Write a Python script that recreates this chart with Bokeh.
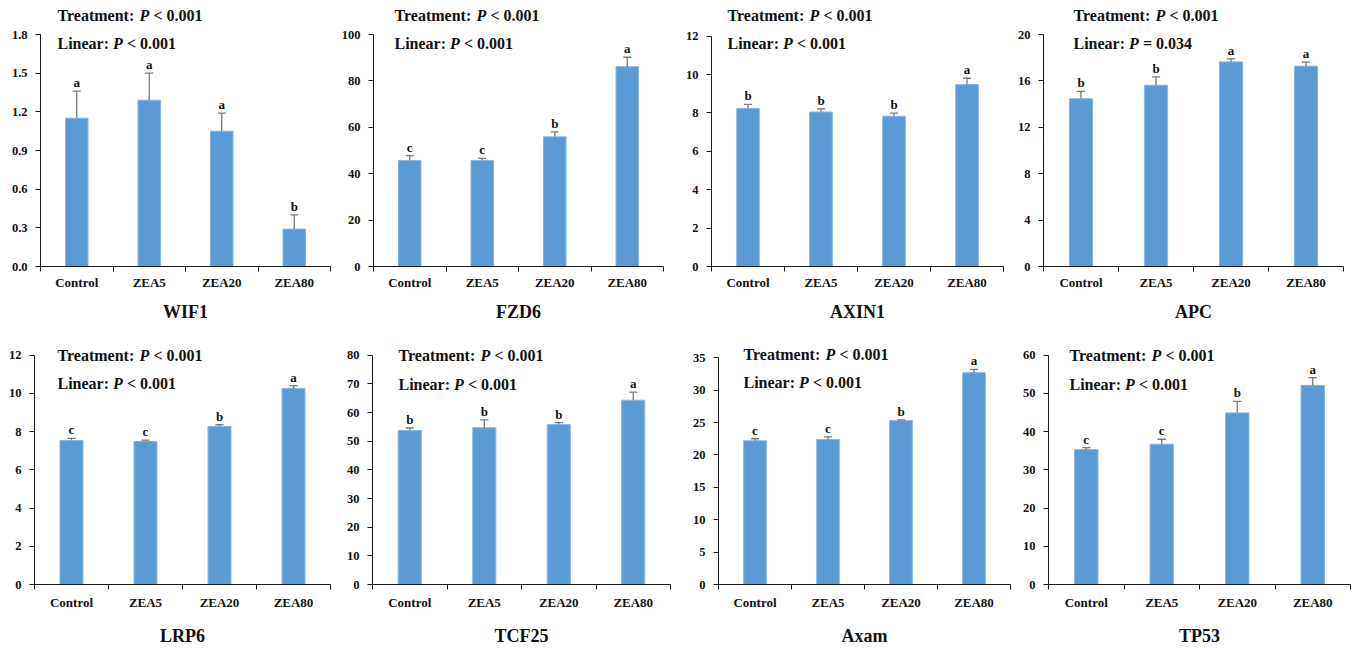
from bokeh.plotting import figure
from bokeh.layouts import column, row
from bokeh.models import FixedTicker, NumeralTickFormatter, Label, LabelSet, ColumnDataSource, Range1d
from bokeh.embed import file_html
from bokeh.resources import INLINE

# ---------------- data ----------------
groups = ["Control", "ZEA5", "ZEA20", "ZEA80"]
genes = ["WIF1", "FZD6", "AXIN1", "APC", "LRP6", "TCF25", "Axam", "TP53"]

wif1_mean = [1.15, 1.29, 1.05, 0.29]
wif1_se = [0.21, 0.21, 0.14, 0.11]
wif1_letters = ["a", "a", "a", "b"]
wif1_yticks = [0.0, 0.3, 0.6, 0.9, 1.2, 1.5, 1.8]

fzd6_mean = [45.7, 45.7, 55.9, 86.1]
fzd6_se = [2.1, 0.9, 2.1, 4.1]
fzd6_letters = ["c", "c", "b", "a"]
fzd6_yticks = [0, 20, 40, 60, 80, 100]

axin1_mean = [8.24, 8.05, 7.83, 9.48]
axin1_se = [0.21, 0.17, 0.16, 0.33]
axin1_letters = ["b", "b", "b", "a"]
axin1_yticks = [0, 2, 4, 6, 8, 10, 12]

apc_mean = [14.46, 15.63, 17.64, 17.27]
apc_se = [0.63, 0.72, 0.26, 0.34]
apc_letters = ["b", "b", "a", "a"]
apc_yticks = [0, 4, 8, 12, 16, 20]

lrp6_mean = [7.53, 7.48, 8.27, 10.26]
lrp6_se = [0.12, 0.07, 0.09, 0.15]
lrp6_letters = ["c", "c", "b", "a"]
lrp6_yticks = [0, 2, 4, 6, 8, 10, 12]

tcf25_mean = [53.7, 54.7, 55.8, 64.3]
tcf25_se = [0.9, 2.7, 0.7, 2.8]
tcf25_letters = ["b", "b", "b", "a"]
tcf25_yticks = [0, 10, 20, 30, 40, 50, 60, 70, 80]

axam_mean = [22.2, 22.4, 25.3, 32.7]
axam_se = [0.3, 0.4, 0.1, 0.5]
axam_letters = ["c", "c", "b", "a"]
axam_yticks = [0, 5, 10, 15, 20, 25, 30, 35]

tp53_mean = [35.3, 36.7, 44.9, 52.1]
tp53_se = [0.5, 1.3, 3.0, 2.0]
tp53_letters = ["c", "c", "b", "a"]
tp53_yticks = [0, 10, 20, 30, 40, 50, 60]

treatment_p = ["< 0.001"] * 8
linear_p = ["< 0.001", "< 0.001", "< 0.001", "= 0.034", "< 0.001", "< 0.001", "< 0.001", "< 0.001"]

means = [wif1_mean, fzd6_mean, axin1_mean, apc_mean, lrp6_mean, tcf25_mean, axam_mean, tp53_mean]
ses = [wif1_se, fzd6_se, axin1_se, apc_se, lrp6_se, tcf25_se, axam_se, tp53_se]
letters = [wif1_letters, fzd6_letters, axin1_letters, apc_letters, lrp6_letters, tcf25_letters, axam_letters, tp53_letters]
yticks = [wif1_yticks, fzd6_yticks, axin1_yticks, apc_yticks, lrp6_yticks, tcf25_yticks, axam_yticks, tp53_yticks]
yformats = ["0.0", "0", "0", "0", "0", "0", "0", "0"]

# ---------------- layout / style ----------------
W, H = 338, 324
FRAME_TOP = 2
# (left, right, axis_top_px, bottom, text_dx, treatment_dy, linear_dy, tick_standoff, title_standoff)
layout = [
    (40, 8, 34, 58, 17, 19, -9, 3, 9),
    (33, 13, 34, 58, 21, 19, -9, 3, 9),
    (35, 11, 36, 56, 16, 21, -7, 3, 9),
    (29, 9, 34, 58, 30, 19, -9, 3, 9),
    (34, 8, 31, 61, 23, 0, -28, 5, 13),
    (34, 6, 31, 61, 26, 0, -29, 5, 13),
    (42, 4, 34, 58, 25, 3, -25, 5, 13),
    (34, 2, 31, 61, 21, 0, -29, 5, 13),
]
FONT = "Liberation Serif"
BAR = "#5B9BD5"
AXIS = "#1a1a1a"
TXT = "#111111"


def make_panel(i):
    left, right, axis_top, bottom, dx, tdy, ldy, tstd, lstd = layout[i]
    n = len(groups)
    xs = [k + 1 for k in range(n)]
    mean = means[i]
    se = ses[i]
    tops = [m + s for m, s in zip(mean, se)]
    ymax = yticks[i][-1]
    frame_h = H - FRAME_TOP - bottom
    axis_h = H - axis_top - bottom
    yend = ymax * frame_h / axis_h

    p = figure(width=W, height=H, x_range=Range1d(0.5, n + 0.5), y_range=Range1d(0, yend),
               output_backend="svg", toolbar_location=None, title=None,
               min_border_left=left, min_border_right=right,
               min_border_top=FRAME_TOP, min_border_bottom=bottom)
    p.xgrid.visible = False
    p.ygrid.visible = False
    p.outline_line_color = None
    p.background_fill_color = "white"
    p.border_fill_color = "white"

    p.vbar(x=xs, top=mean, bottom=0, width=0.31, fill_color=BAR, line_color="#86B4E0", line_width=1)
    p.segment(x0=xs, y0=mean, x1=xs, y1=tops, line_color="#7a7a7a", line_width=1.3)
    p.segment(x0=[x - 0.055 for x in xs], y0=tops, x1=[x + 0.055 for x in xs], y1=tops,
              line_color="#7a7a7a", line_width=1.3)

    src = ColumnDataSource(dict(x=xs, y=tops, t=letters[i]))
    p.add_layout(LabelSet(x="x", y="y", text="t", source=src, y_offset=1,
                          text_align="center", text_baseline="bottom",
                          text_font=FONT, text_font_style="bold", text_font_size="13px",
                          text_color=TXT))

    # x axis
    xa = p.xaxis[0]
    xa.ticker = FixedTicker(ticks=xs, minor_ticks=[k + 0.5 for k in range(n + 1)])
    xa.major_label_overrides = {x: g for x, g in zip(xs, groups)}
    xa.major_tick_out = 0
    xa.major_tick_in = 0
    xa.minor_tick_out = 5
    xa.minor_tick_in = 0
    xa.minor_tick_line_color = AXIS
    xa.axis_line_color = AXIS
    xa.major_label_standoff = tstd
    xa.major_label_text_font = FONT
    xa.major_label_text_font_style = "bold"
    xa.major_label_text_font_size = "13px"
    xa.major_label_text_color = TXT
    xa.axis_label = genes[i]
    xa.axis_label_standoff = lstd
    xa.axis_label_text_font = FONT
    xa.axis_label_text_font_style = "bold"
    xa.axis_label_text_font_size = "18px"
    xa.axis_label_text_color = TXT

    # y axis
    ya = p.yaxis[0]
    ya.ticker = FixedTicker(ticks=yticks[i])
    ya.bounds = (0, ymax)
    ya.formatter = NumeralTickFormatter(format=yformats[i])
    ya.major_tick_out = 5
    ya.major_tick_in = 0
    ya.minor_tick_out = 0
    ya.minor_tick_in = 0
    ya.axis_line_color = AXIS
    ya.major_tick_line_color = AXIS
    ya.major_label_standoff = 8
    ya.major_label_text_font = FONT
    ya.major_label_text_font_style = "bold"
    ya.major_label_text_font_size = "12.5px"
    ya.major_label_text_color = TXT

    # annotations
    pieces = [
        ("Treatment: ", "bold", 0, tdy),
        ("P", "bold italic", 82, tdy),
        (treatment_p[i], "bold", 96, tdy),
        ("Linear: ", "bold", 0, ldy),
        ("P", "bold italic", 55.5, ldy),
        (linear_p[i], "bold", 69.5, ldy),
    ]
    for txt, style, off, dy in pieces:
        p.add_layout(Label(x=0.5, y=ymax, x_units="data", y_units="data",
                           x_offset=dx + off, y_offset=dy, text=txt,
                           text_font=FONT, text_font_style=style, text_font_size="16px",
                           text_color=TXT, text_baseline="middle", text_align="left"))
    return p


panels = [make_panel(i) for i in range(8)]
layout_root = column(row(*panels[:4], spacing=0), row(*panels[4:], spacing=0), spacing=0)

with open("out.html", "w") as f:
    f.write(file_html(layout_root, INLINE))
